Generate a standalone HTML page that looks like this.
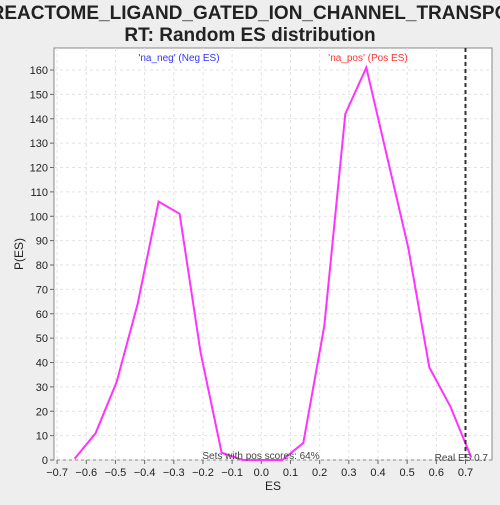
<!DOCTYPE html>
<html><head><meta charset="utf-8"><style>
body{margin:0;background:#eeeeee;font-family:"Liberation Sans","DejaVu Sans",sans-serif}
svg text{font-family:"Liberation Sans","DejaVu Sans",sans-serif}
</style></head><body>
<svg width="500" height="500">
<rect x="0" y="0" width="500" height="500" fill="#eeeeee"/>
<text x="250" y="19" font-size="19" font-weight="bold" text-anchor="middle" fill="#222">REACTOME_LIGAND_GATED_ION_CHANNEL_TRANSPO</text>
<text x="250" y="41" font-size="19" font-weight="bold" text-anchor="middle" fill="#222">RT: Random ES distribution</text>
<rect x="54" y="48" width="438" height="412" fill="#fff" stroke="#888"/>
<g id="grid"></g>
<g id="axes"></g>
<polyline id="line" fill="none" stroke="#ff33ff" stroke-width="2"/>
<line id="real" y1="48" y2="460" stroke="#333" stroke-width="2" stroke-dasharray="4,3"/>
<text x="179" y="61" font-size="10" fill="#3333ff" text-anchor="middle">'na_neg' (Neg ES)</text>
<text x="368" y="61" font-size="10" fill="#ff3333" text-anchor="middle">'na_pos' (Pos ES)</text>
<text x="261" y="459" font-size="10" fill="#444" text-anchor="middle">Sets with pos scores: 64%</text>
<text x="488" y="461" font-size="10" fill="#444" text-anchor="end">Real ES 0.7</text>
<text x="273" y="490" font-size="12" fill="#222" text-anchor="middle">ES</text>
<text x="23" y="254" font-size="12" fill="#222" text-anchor="middle" transform="rotate(-90 23 254)">P(ES)</text>
</svg>
<script>
const esValues=[-0.64,-0.568,-0.496,-0.424,-0.352,-0.28,-0.208,-0.136,-0.064,0.0,0.072,0.144,0.216,0.288,0.36,0.432,0.504,0.576,0.648,0.72];
const pValues=[0.5,11,32,64,106,101,44,3,0,0,0,7,55,142,161,124,87,38,22,1];
const xTicks=[-0.7,-0.6,-0.5,-0.4,-0.3,-0.2,-0.1,0.0,0.1,0.2,0.3,0.4,0.5,0.6,0.7];
const yTicks=[0,10,20,30,40,50,60,70,80,90,100,110,120,130,140,150,160];
const realES=0.70;
const ns="http://www.w3.org/2000/svg";
const X=v=>261.3+v*291.7, Y=v=>460-v*2.4375;
const grid=document.getElementById('grid'), axes=document.getElementById('axes');
function mk(t,a,p){const e=document.createElementNS(ns,t);for(const k in a)e.setAttribute(k,a[k]);p.appendChild(e);return e;}
xTicks.forEach(t=>{
 const x=X(t);
 const g=mk('line',{x1:x,x2:x,y1:48,y2:460,stroke:'#e2e2e2','stroke-dasharray':'3,3'},grid);
 
 
 const k=mk('line',{x1:x,x2:x,y1:460,y2:464,stroke:'#666'},axes);
 
 
 const l=mk('text',{x:x,y:476,'font-size':11,'text-anchor':'middle',fill:'#222'},axes);
 l.textContent=(t<0?'\u2212':'')+Math.abs(t).toFixed(1);
 
 
});
yTicks.forEach(t=>{
 const y=Y(t);
 const g=mk('line',{x1:54,x2:492,y1:y,y2:y,stroke:'#e2e2e2','stroke-dasharray':'3,3'},grid);
 
 
 const k=mk('line',{x1:50,x2:54,y1:y,y2:y,stroke:'#666'},axes);
 
 
 const l=mk('text',{x:48,y:y+4,'font-size':11,'text-anchor':'end',fill:'#222'},axes);
 l.textContent=t;
 
 
});
document.getElementById('line').setAttribute('points',esValues.map((e,i)=>X(e)+','+Y(pValues[i])).join(' '));
const r=document.getElementById('real');r.setAttribute('x1',X(realES));r.setAttribute('x2',X(realES));
</script>
</body></html>
